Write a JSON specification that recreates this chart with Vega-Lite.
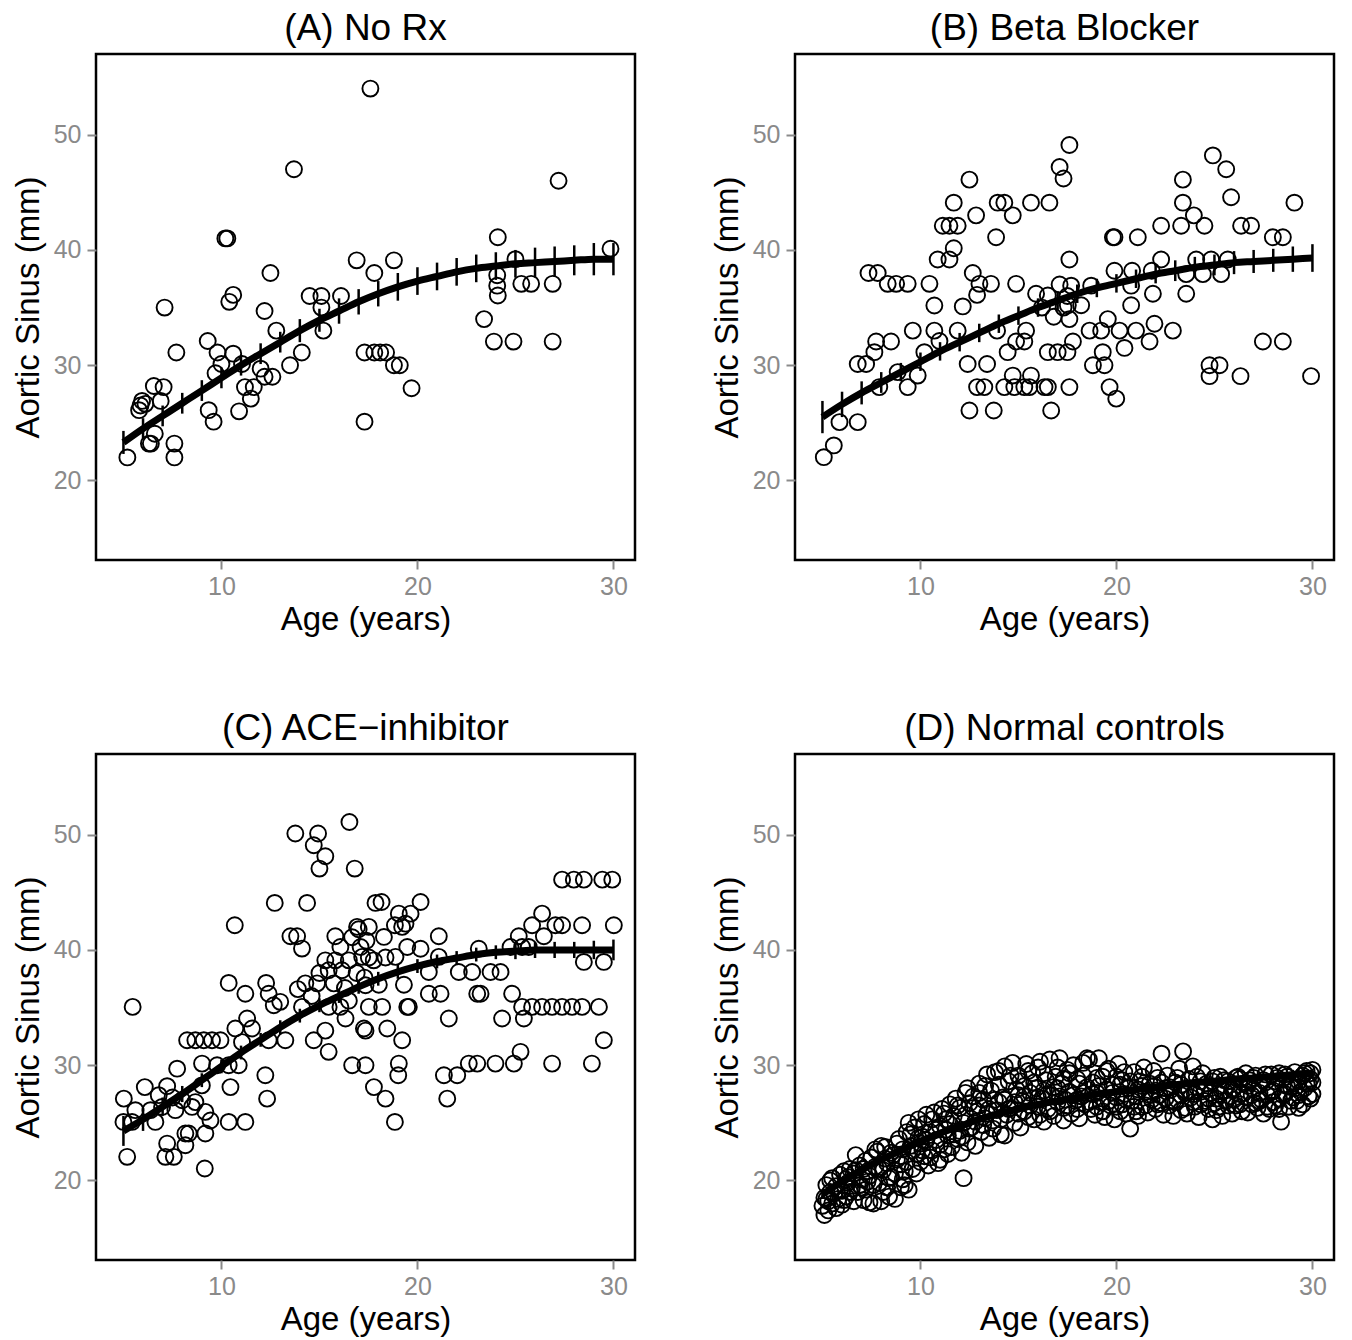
{
  "$schema": "https://vega.github.io/schema/vega-lite/v6.json",
  "padding": {"left": 10, "top": 8, "right": 5, "bottom": 5},
  "datasets": {
    "pts": [
      {"g":"A","a":17.6,"s":54},{"g":"A","a":13.7,"s":47},{"g":"A","a":10.2,"s":41},{"g":"A","a":10.3,"s":41},{"g":"A","a":12.5,"s":38},{"g":"A","a":16.9,"s":39.1},{"g":"A","a":17.8,"s":38},{"g":"A","a":7.1,"s":35},{"g":"A","a":10.6,"s":36.1},{"g":"A","a":10.4,"s":35.5},{"g":"A","a":12.2,"s":34.7},{"g":"A","a":14.5,"s":36},{"g":"A","a":15.1,"s":36},{"g":"A","a":16.1,"s":36},{"g":"A","a":15.1,"s":35},{"g":"A","a":15.2,"s":33},{"g":"A","a":12.8,"s":33},{"g":"A","a":7.7,"s":31.1},{"g":"A","a":9.3,"s":32.1},{"g":"A","a":9.8,"s":31.1},{"g":"A","a":10.6,"s":31},{"g":"A","a":10.0,"s":30.1},{"g":"A","a":11.05,"s":30.1},{"g":"A","a":13.5,"s":30},{"g":"A","a":14.1,"s":31.1},{"g":"A","a":12.0,"s":29.7},{"g":"A","a":12.6,"s":29.0},{"g":"A","a":12.2,"s":29.0},{"g":"A","a":9.7,"s":29.3},{"g":"A","a":11.2,"s":28.1},{"g":"A","a":11.65,"s":28.1},{"g":"A","a":11.5,"s":27.1},{"g":"A","a":9.35,"s":26.1},{"g":"A","a":9.6,"s":25.1},{"g":"A","a":10.9,"s":26},{"g":"A","a":6.55,"s":28.2},{"g":"A","a":7.05,"s":28.1},{"g":"A","a":5.95,"s":26.9},{"g":"A","a":5.87,"s":26.5},{"g":"A","a":6.12,"s":26.65},{"g":"A","a":5.8,"s":26.1},{"g":"A","a":6.9,"s":26.9},{"g":"A","a":6.6,"s":24.05},{"g":"A","a":6.4,"s":23.2},{"g":"A","a":6.3,"s":23.2},{"g":"A","a":7.6,"s":23.2},{"g":"A","a":7.6,"s":22.0},{"g":"A","a":5.2,"s":22.0},{"g":"A","a":17.3,"s":25.1},{"g":"A","a":17.3,"s":31.1},{"g":"A","a":17.8,"s":31.1},{"g":"A","a":18.1,"s":31.1},{"g":"A","a":18.4,"s":31.1},{"g":"A","a":27.2,"s":46},{"g":"A","a":24.1,"s":41.1},{"g":"A","a":25.0,"s":39.2},{"g":"A","a":29.85,"s":40.1},{"g":"A","a":24.07,"s":37.8},{"g":"A","a":24.07,"s":36.9},{"g":"A","a":24.1,"s":36.05},{"g":"A","a":25.3,"s":37.06},{"g":"A","a":25.8,"s":37.06},{"g":"A","a":26.9,"s":37.06},{"g":"A","a":18.8,"s":39.1},{"g":"A","a":23.4,"s":34},{"g":"A","a":23.9,"s":32.05},{"g":"A","a":24.9,"s":32.05},{"g":"A","a":26.9,"s":32.05},{"g":"A","a":18.8,"s":30},{"g":"A","a":19.1,"s":30},{"g":"A","a":19.7,"s":28},
      {"g":"B","a":17.6,"s":49.1},{"g":"B","a":17.1,"s":47.2},{"g":"B","a":17.3,"s":46.2},{"g":"B","a":12.5,"s":46.1},{"g":"B","a":11.7,"s":44.1},{"g":"B","a":12.84,"s":43.0},{"g":"B","a":13.94,"s":44.1},{"g":"B","a":14.28,"s":44.1},{"g":"B","a":14.71,"s":43.0},{"g":"B","a":15.64,"s":44.1},{"g":"B","a":16.58,"s":44.1},{"g":"B","a":11.14,"s":42.1},{"g":"B","a":11.48,"s":42.1},{"g":"B","a":11.9,"s":42.1},{"g":"B","a":11.7,"s":40.15},{"g":"B","a":10.88,"s":39.17},{"g":"B","a":11.48,"s":39.17},{"g":"B","a":13.86,"s":41.1},{"g":"B","a":17.6,"s":39.17},{"g":"B","a":7.35,"s":38.0},{"g":"B","a":7.82,"s":38.0},{"g":"B","a":8.33,"s":37.06},{"g":"B","a":8.76,"s":37.06},{"g":"B","a":9.35,"s":37.06},{"g":"B","a":10.46,"s":37.06},{"g":"B","a":12.67,"s":38.0},{"g":"B","a":13.01,"s":37.06},{"g":"B","a":13.6,"s":37.06},{"g":"B","a":14.88,"s":37.06},{"g":"B","a":10.71,"s":35.18},{"g":"B","a":12.16,"s":35.1},{"g":"B","a":12.89,"s":36.1},{"g":"B","a":15.9,"s":36.2},{"g":"B","a":16.5,"s":36.05},{"g":"B","a":9.61,"s":33},{"g":"B","a":10.71,"s":33},{"g":"B","a":11.9,"s":33},{"g":"B","a":13.91,"s":33},{"g":"B","a":15.39,"s":33},{"g":"B","a":7.74,"s":32.06},{"g":"B","a":8.5,"s":32.06},{"g":"B","a":14.88,"s":32.06},{"g":"B","a":15.3,"s":32.06},{"g":"B","a":10.97,"s":32.1},{"g":"B","a":7.65,"s":31.13},{"g":"B","a":6.8,"s":30.1},{"g":"B","a":7.23,"s":30.1},{"g":"B","a":10.2,"s":31.13},{"g":"B","a":12.41,"s":30.1},{"g":"B","a":13.4,"s":30.1},{"g":"B","a":14.45,"s":31.13},{"g":"B","a":16.5,"s":31.13},{"g":"B","a":17.0,"s":31.13},{"g":"B","a":17.5,"s":31.13},{"g":"B","a":8.84,"s":29.4},{"g":"B","a":9.35,"s":28.1},{"g":"B","a":9.86,"s":29.1},{"g":"B","a":7.9,"s":28.1},{"g":"B","a":12.89,"s":28.1},{"g":"B","a":13.26,"s":28.1},{"g":"B","a":14.28,"s":28.1},{"g":"B","a":14.79,"s":28.1},{"g":"B","a":15.3,"s":28.1},{"g":"B","a":15.56,"s":28.1},{"g":"B","a":16.33,"s":28.1},{"g":"B","a":16.5,"s":28.1},{"g":"B","a":17.6,"s":28.1},{"g":"B","a":14.71,"s":29.1},{"g":"B","a":15.64,"s":29.1},{"g":"B","a":12.5,"s":26.07},{"g":"B","a":13.74,"s":26.07},{"g":"B","a":16.67,"s":26.07},{"g":"B","a":5.87,"s":25.06},{"g":"B","a":6.8,"s":25.06},{"g":"B","a":5.58,"s":23.04},{"g":"B","a":5.07,"s":22.02},{"g":"B","a":16.2,"s":35},{"g":"B","a":16.8,"s":34.2},{"g":"B","a":17.3,"s":35},{"g":"B","a":17.5,"s":36},{"g":"B","a":17.1,"s":37},
      {"g":"B","a":24.92,"s":48.2},{"g":"B","a":25.6,"s":47.0},{"g":"B","a":23.39,"s":46.1},{"g":"B","a":23.39,"s":44.1},{"g":"B","a":23.95,"s":43.0},{"g":"B","a":25.85,"s":44.57},{"g":"B","a":29.08,"s":44.1},{"g":"B","a":22.28,"s":42.1},{"g":"B","a":23.3,"s":42.1},{"g":"B","a":24.49,"s":42.1},{"g":"B","a":26.36,"s":42.1},{"g":"B","a":26.87,"s":42.1},{"g":"B","a":27.98,"s":41.1},{"g":"B","a":28.49,"s":41.1},{"g":"B","a":19.82,"s":41.1},{"g":"B","a":19.9,"s":41.1},{"g":"B","a":21.09,"s":41.1},{"g":"B","a":22.28,"s":39.17},{"g":"B","a":24.07,"s":39.17},{"g":"B","a":24.83,"s":39.17},{"g":"B","a":25.68,"s":39.17},{"g":"B","a":19.9,"s":38.2},{"g":"B","a":20.8,"s":38.2},{"g":"B","a":21.8,"s":38.2},{"g":"B","a":23.56,"s":37.9},{"g":"B","a":24.41,"s":37.9},{"g":"B","a":25.34,"s":37.9},{"g":"B","a":17.69,"s":36.9},{"g":"B","a":18.71,"s":36.9},{"g":"B","a":20.75,"s":36.9},{"g":"B","a":21.86,"s":36.2},{"g":"B","a":23.56,"s":36.2},{"g":"B","a":17.52,"s":35.2},{"g":"B","a":18.2,"s":35.2},{"g":"B","a":20.75,"s":35.2},{"g":"B","a":17.6,"s":34.0},{"g":"B","a":19.56,"s":34.0},{"g":"B","a":18.63,"s":33},{"g":"B","a":19.22,"s":33},{"g":"B","a":20.16,"s":33},{"g":"B","a":21.0,"s":33},{"g":"B","a":21.94,"s":33.6},{"g":"B","a":22.88,"s":33},{"g":"B","a":21.69,"s":32.06},{"g":"B","a":17.78,"s":32.06},{"g":"B","a":19.3,"s":31.13},{"g":"B","a":20.41,"s":31.5},{"g":"B","a":18.8,"s":30},{"g":"B","a":19.39,"s":30},{"g":"B","a":27.47,"s":32.06},{"g":"B","a":28.49,"s":32.06},{"g":"B","a":24.75,"s":30},{"g":"B","a":25.26,"s":30},{"g":"B","a":24.75,"s":29.05},{"g":"B","a":26.33,"s":29.05},{"g":"B","a":29.93,"s":29.05},{"g":"B","a":19.65,"s":28.1},{"g":"B","a":19.99,"s":27.1},
      {"g":"C","a":16.53,"s":51.1},{"g":"C","a":13.77,"s":50.1},{"g":"C","a":14.93,"s":50.1},{"g":"C","a":14.71,"s":49.08},{"g":"C","a":15.3,"s":48.13},{"g":"C","a":15.0,"s":47.06},{"g":"C","a":16.8,"s":47.06},{"g":"C","a":12.72,"s":44.08},{"g":"C","a":14.37,"s":44.08},{"g":"C","a":10.68,"s":42.14},{"g":"C","a":13.52,"s":41.19},{"g":"C","a":13.86,"s":41.19},{"g":"C","a":14.11,"s":40.12},{"g":"C","a":17.86,"s":44.08},{"g":"C","a":15.81,"s":41.19},{"g":"C","a":16.67,"s":41.1},{"g":"C","a":16.07,"s":40.26},{"g":"C","a":16.92,"s":42.0},{"g":"C","a":17.52,"s":42.0},{"g":"C","a":10.37,"s":37.14},{"g":"C","a":11.22,"s":36.2},{"g":"C","a":12.28,"s":37.14},{"g":"C","a":12.41,"s":36.2},{"g":"C","a":12.67,"s":35.2},{"g":"C","a":14.28,"s":37.1},{"g":"C","a":14.88,"s":37.1},{"g":"C","a":15.47,"s":38.24},{"g":"C","a":16.15,"s":38.24},{"g":"C","a":15.73,"s":37.1},{"g":"C","a":15.3,"s":39.1},{"g":"C","a":15.81,"s":39.1},{"g":"C","a":16.5,"s":39.1},{"g":"C","a":17.18,"s":39.4},{"g":"C","a":17.77,"s":39.1},{"g":"C","a":5.47,"s":35.06},{"g":"C","a":11.31,"s":34.05},{"g":"C","a":10.71,"s":33.18},{"g":"C","a":11.56,"s":33.18},{"g":"C","a":12.41,"s":32.17},{"g":"C","a":8.25,"s":32.17},{"g":"C","a":8.67,"s":32.17},{"g":"C","a":9.1,"s":32.17},{"g":"C","a":9.52,"s":32.17},{"g":"C","a":9.95,"s":32.17},{"g":"C","a":13.26,"s":32.17},{"g":"C","a":11.05,"s":32.0},{"g":"C","a":15.3,"s":33.0},{"g":"C","a":16.33,"s":34.05},{"g":"C","a":17.35,"s":33.0},{"g":"C","a":14.71,"s":32.17},{"g":"C","a":15.47,"s":31.16},{"g":"C","a":14.11,"s":35.06},{"g":"C","a":15.47,"s":35.06},{"g":"C","a":16.07,"s":35.06},{"g":"C","a":16.5,"s":35.6},{"g":"C","a":16.67,"s":30.0},{"g":"C","a":7.74,"s":29.7},{"g":"C","a":9.01,"s":30.14},{"g":"C","a":9.78,"s":30.0},{"g":"C","a":10.37,"s":30.0},{"g":"C","a":10.88,"s":30.0},{"g":"C","a":12.24,"s":29.13},{"g":"C","a":6.09,"s":28.1},{"g":"C","a":7.23,"s":28.18},{"g":"C","a":9.0,"s":28.25},{"g":"C","a":10.46,"s":28.1},{"g":"C","a":12.33,"s":27.1},{"g":"C","a":5.02,"s":27.1},{"g":"C","a":5.61,"s":26.1},{"g":"C","a":6.38,"s":26.1},{"g":"C","a":6.97,"s":26.38},{"g":"C","a":7.65,"s":26.1},{"g":"C","a":8.5,"s":26.38},{"g":"C","a":9.18,"s":25.95},{"g":"C","a":5.0,"s":25.08},{"g":"C","a":5.44,"s":25.08},{"g":"C","a":6.63,"s":25.08},{"g":"C","a":9.44,"s":25.2},{"g":"C","a":10.37,"s":25.08},{"g":"C","a":11.22,"s":25.08},{"g":"C","a":8.16,"s":24.07},{"g":"C","a":8.33,"s":24.07},{"g":"C","a":9.18,"s":24.07},{"g":"C","a":7.23,"s":23.2},{"g":"C","a":8.16,"s":23.06},{"g":"C","a":5.19,"s":22.05},{"g":"C","a":7.14,"s":22.05},{"g":"C","a":7.57,"s":22.05},{"g":"C","a":9.15,"s":21.04},{"g":"C","a":6.8,"s":27.4},{"g":"C","a":7.5,"s":27.2},{"g":"C","a":8.0,"s":26.96},{"g":"C","a":8.67,"s":26.8},{"g":"C","a":13.0,"s":35.5},{"g":"C","a":13.9,"s":36.6},{"g":"C","a":14.6,"s":36.0},{"g":"C","a":15.0,"s":38.0},{"g":"C","a":16.9,"s":38.0},{"g":"C","a":17.3,"s":37.6},{"g":"C","a":16.3,"s":36.7},{"g":"C","a":17.0,"s":41.8},{"g":"C","a":17.4,"s":40.8},
      {"g":"C","a":27.38,"s":46.1},{"g":"C","a":27.98,"s":46.1},{"g":"C","a":28.49,"s":46.1},{"g":"C","a":29.43,"s":46.1},{"g":"C","a":29.94,"s":46.1},{"g":"C","a":18.17,"s":44.16},{"g":"C","a":20.16,"s":44.16},{"g":"C","a":19.05,"s":43.15},{"g":"C","a":19.65,"s":43.15},{"g":"C","a":19.39,"s":42.28},{"g":"C","a":18.85,"s":42.14},{"g":"C","a":19.22,"s":42.0},{"g":"C","a":26.36,"s":43.15},{"g":"C","a":25.85,"s":42.14},{"g":"C","a":27.04,"s":42.14},{"g":"C","a":27.38,"s":42.14},{"g":"C","a":28.4,"s":42.14},{"g":"C","a":30.02,"s":42.14},{"g":"C","a":18.29,"s":41.13},{"g":"C","a":21.09,"s":41.19},{"g":"C","a":19.48,"s":40.26},{"g":"C","a":20.16,"s":40.1},{"g":"C","a":25.17,"s":41.19},{"g":"C","a":26.45,"s":41.19},{"g":"C","a":17.1,"s":40.26},{"g":"C","a":17.52,"s":39.34},{"g":"C","a":18.37,"s":39.34},{"g":"C","a":18.88,"s":39.4},{"g":"C","a":23.13,"s":40.1},{"g":"C","a":24.75,"s":40.26},{"g":"C","a":25.34,"s":40.26},{"g":"C","a":25.68,"s":40.26},{"g":"C","a":21.09,"s":39.4},{"g":"C","a":28.49,"s":38.96},{"g":"C","a":29.51,"s":38.96},{"g":"C","a":20.58,"s":38.09},{"g":"C","a":22.11,"s":38.09},{"g":"C","a":22.79,"s":38.09},{"g":"C","a":23.73,"s":38.09},{"g":"C","a":24.24,"s":38.09},{"g":"C","a":19.31,"s":36.98},{"g":"C","a":17.35,"s":36.94},{"g":"C","a":18.03,"s":36.98},{"g":"C","a":20.58,"s":36.2},{"g":"C","a":21.18,"s":36.2},{"g":"C","a":23.05,"s":36.2},{"g":"C","a":23.22,"s":36.2},{"g":"C","a":24.83,"s":36.2},{"g":"C","a":17.52,"s":35.06},{"g":"C","a":18.2,"s":35.06},{"g":"C","a":19.48,"s":35.06},{"g":"C","a":19.56,"s":35.06},{"g":"C","a":25.34,"s":35.06},{"g":"C","a":25.85,"s":35.06},{"g":"C","a":26.36,"s":35.06},{"g":"C","a":26.87,"s":35.06},{"g":"C","a":27.38,"s":35.06},{"g":"C","a":27.89,"s":35.06},{"g":"C","a":28.4,"s":35.06},{"g":"C","a":29.26,"s":35.06},{"g":"C","a":21.6,"s":34.05},{"g":"C","a":24.32,"s":34.05},{"g":"C","a":25.43,"s":34.05},{"g":"C","a":17.27,"s":33.18},{"g":"C","a":18.46,"s":33.18},{"g":"C","a":19.22,"s":32.17},{"g":"C","a":29.51,"s":32.17},{"g":"C","a":17.35,"s":30.0},{"g":"C","a":19.05,"s":30.14},{"g":"C","a":19.02,"s":29.13},{"g":"C","a":21.35,"s":29.13},{"g":"C","a":22.03,"s":29.13},{"g":"C","a":22.62,"s":30.14},{"g":"C","a":23.05,"s":30.14},{"g":"C","a":23.98,"s":30.14},{"g":"C","a":24.92,"s":30.14},{"g":"C","a":25.26,"s":31.16},{"g":"C","a":26.87,"s":30.14},{"g":"C","a":28.9,"s":30.14},{"g":"C","a":17.78,"s":28.1},{"g":"C","a":18.37,"s":27.1},{"g":"C","a":21.52,"s":27.1},{"g":"C","a":18.85,"s":25.08},
      {"g":"D","a":5.0,"s":17.8},{"g":"D","a":5.1,"s":17.0},{"g":"D","a":5.1,"s":18.5},{"g":"D","a":5.2,"s":19.6},{"g":"D","a":5.3,"s":18.2},{"g":"D","a":5.4,"s":19.0},{"g":"D","a":5.5,"s":20.2},{"g":"D","a":5.5,"s":18.0},{"g":"D","a":5.7,"s":19.5},{"g":"D","a":5.8,"s":18.4},{"g":"D","a":5.9,"s":20.5},{"g":"D","a":6.0,"s":19.1},{"g":"D","a":6.1,"s":20.8},{"g":"D","a":6.2,"s":18.6},{"g":"D","a":6.3,"s":19.8},{"g":"D","a":6.4,"s":21.0},{"g":"D","a":6.5,"s":19.3},{"g":"D","a":6.0,"s":17.9},{"g":"D","a":6.3,"s":20.3},{"g":"D","a":6.6,"s":20.6},{"g":"D","a":6.7,"s":22.2},{"g":"D","a":6.8,"s":19.0},{"g":"D","a":6.9,"s":21.3},{"g":"D","a":7.0,"s":20.1},{"g":"D","a":7.1,"s":18.3},{"g":"D","a":7.2,"s":21.7},{"g":"D","a":7.3,"s":20.8},{"g":"D","a":7.4,"s":18.1},{"g":"D","a":7.5,"s":22.0},{"g":"D","a":7.0,"s":19.4},{"g":"D","a":7.3,"s":19.9},{"g":"D","a":7.6,"s":18.0},{"g":"D","a":7.7,"s":21.2},{"g":"D","a":7.8,"s":22.5},{"g":"D","a":7.9,"s":19.8},{"g":"D","a":8.0,"s":18.2},{"g":"D","a":8.1,"s":20.9},{"g":"D","a":8.2,"s":22.9},{"g":"D","a":8.3,"s":21.5},{"g":"D","a":8.4,"s":18.6},{"g":"D","a":8.5,"s":20.3},{"g":"D","a":8.0,"s":23.0},{"g":"D","a":8.3,"s":19.4},{"g":"D","a":8.6,"s":22.2},{"g":"D","a":8.7,"s":18.4},{"g":"D","a":8.8,"s":21.8},{"g":"D","a":8.9,"s":23.6},{"g":"D","a":9.0,"s":19.4},{"g":"D","a":9.1,"s":22.7},{"g":"D","a":9.2,"s":20.8},{"g":"D","a":9.3,"s":24.2},{"g":"D","a":9.4,"s":19.2},{"g":"D","a":9.5,"s":23.0},{"g":"D","a":9.0,"s":21.4},{"g":"D","a":9.4,"s":25.0},{"g":"D","a":9.2,"s":19.6},{"g":"D","a":9.6,"s":21.0},{"g":"D","a":9.7,"s":24.6},{"g":"D","a":9.8,"s":22.3},{"g":"D","a":9.9,"s":25.3},{"g":"D","a":10.0,"s":21.6},{"g":"D","a":10.1,"s":23.8},{"g":"D","a":10.2,"s":22.1},{"g":"D","a":10.3,"s":25.7},{"g":"D","a":10.4,"s":21.3},{"g":"D","a":10.5,"s":24.2},{"g":"D","a":10.0,"s":23.2},{"g":"D","a":10.2,"s":24.9},{"g":"D","a":10.6,"s":22.6},{"g":"D","a":10.7,"s":25.9},{"g":"D","a":10.8,"s":23.5},{"g":"D","a":10.9,"s":21.5},{"g":"D","a":11.0,"s":24.7},{"g":"D","a":11.1,"s":26.2},{"g":"D","a":11.2,"s":22.7},{"g":"D","a":11.3,"s":25.3},{"g":"D","a":11.4,"s":23.9},{"g":"D","a":11.5,"s":26.6},{"g":"D","a":11.0,"s":21.8},{"g":"D","a":11.3,"s":24.4},{"g":"D","a":11.6,"s":22.9},{"g":"D","a":11.7,"s":25.6},{"g":"D","a":11.8,"s":27.1},{"g":"D","a":11.9,"s":23.6},{"g":"D","a":12.0,"s":26.3},{"g":"D","a":12.1,"s":22.4},{"g":"D","a":12.2,"s":20.2},{"g":"D","a":12.2,"s":25.0},{"g":"D","a":12.3,"s":27.6},{"g":"D","a":12.4,"s":23.3},{"g":"D","a":12.5,"s":26.7},{"g":"D","a":12.0,"s":24.3},{"g":"D","a":12.4,"s":28.0},{"g":"D","a":12.6,"s":24.6},{"g":"D","a":12.7,"s":27.3},{"g":"D","a":12.8,"s":23.0},{"g":"D","a":12.9,"s":26.0},{"g":"D","a":13.0,"s":28.4},{"g":"D","a":13.1,"s":24.2},{"g":"D","a":13.2,"s":27.0},{"g":"D","a":13.3,"s":25.4},{"g":"D","a":13.4,"s":29.2},{"g":"D","a":13.5,"s":23.7},{"g":"D","a":13.0,"s":26.5},{"g":"D","a":13.4,"s":25.8},{"g":"D","a":13.6,"s":27.8},{"g":"D","a":13.7,"s":24.5},{"g":"D","a":13.8,"s":29.4},{"g":"D","a":13.9,"s":26.1},{"g":"D","a":14.0,"s":28.3},{"g":"D","a":14.1,"s":24.0},{"g":"D","a":14.2,"s":27.2},{"g":"D","a":14.3,"s":29.9},{"g":"D","a":14.4,"s":25.7},{"g":"D","a":14.5,"s":28.6},{"g":"D","a":14.0,"s":26.8},{"g":"D","a":14.3,"s":23.9},{"g":"D","a":14.6,"s":26.3},{"g":"D","a":14.7,"s":30.2},{"g":"D","a":14.8,"s":25.0},{"g":"D","a":14.9,"s":27.9},{"g":"D","a":15.0,"s":29.1},{"g":"D","a":15.1,"s":24.6},{"g":"D","a":15.2,"s":26.9},{"g":"D","a":15.3,"s":28.2},{"g":"D","a":15.4,"s":30.1},{"g":"D","a":15.5,"s":25.5},{"g":"D","a":15.0,"s":27.4},{"g":"D","a":15.3,"s":26.0},{"g":"D","a":15.6,"s":27.6},{"g":"D","a":15.7,"s":29.3},{"g":"D","a":15.8,"s":25.3},{"g":"D","a":15.9,"s":28.0},{"g":"D","a":16.0,"s":26.4},{"g":"D","a":16.1,"s":30.3},{"g":"D","a":16.2,"s":27.1},{"g":"D","a":16.3,"s":25.1},{"g":"D","a":16.4,"s":28.7},{"g":"D","a":16.5,"s":26.2},{"g":"D","a":16.0,"s":29.8},{"g":"D","a":16.3,"s":27.8},{"g":"D","a":16.6,"s":30.5},{"g":"D","a":16.7,"s":27.4},{"g":"D","a":16.8,"s":25.6},{"g":"D","a":16.9,"s":29.0},{"g":"D","a":17.0,"s":26.8},{"g":"D","a":17.1,"s":30.6},{"g":"D","a":17.2,"s":28.4},{"g":"D","a":17.3,"s":25.2},{"g":"D","a":17.4,"s":27.0},{"g":"D","a":17.5,"s":29.6},{"g":"D","a":17.0,"s":28.0},{"g":"D","a":17.3,"s":26.3},{"g":"D","a":17.6,"s":27.7},{"g":"D","a":17.7,"s":25.8},{"g":"D","a":17.8,"s":30.0},{"g":"D","a":17.9,"s":26.9},{"g":"D","a":18.0,"s":28.8},{"g":"D","a":18.1,"s":25.4},{"g":"D","a":18.2,"s":27.3},{"g":"D","a":18.3,"s":30.2},{"g":"D","a":18.4,"s":26.6},{"g":"D","a":18.5,"s":28.1},{"g":"D","a":18.0,"s":27.0},{"g":"D","a":18.3,"s":29.1},{"g":"D","a":18.6,"s":30.5},{"g":"D","a":18.7,"s":26.2},{"g":"D","a":18.8,"s":28.5},{"g":"D","a":18.9,"s":25.7},{"g":"D","a":19.0,"s":27.6},{"g":"D","a":19.1,"s":30.6},{"g":"D","a":19.2,"s":26.8},{"g":"D","a":19.3,"s":29.0},{"g":"D","a":19.4,"s":25.5},{"g":"D","a":19.5,"s":27.9},{"g":"D","a":19.0,"s":28.9},{"g":"D","a":19.3,"s":26.0},{"g":"D","a":19.6,"s":29.7},{"g":"D","a":19.7,"s":26.5},{"g":"D","a":19.8,"s":28.3},{"g":"D","a":19.9,"s":25.3},{"g":"D","a":20.0,"s":27.2},{"g":"D","a":20.1,"s":30.1},{"g":"D","a":20.2,"s":26.0},{"g":"D","a":20.3,"s":28.7},{"g":"D","a":20.4,"s":27.5},{"g":"D","a":20.5,"s":25.8},{"g":"D","a":20.0,"s":29.0},{"g":"D","a":20.3,"s":26.6},{"g":"D","a":20.6,"s":28.0},{"g":"D","a":20.7,"s":24.5},{"g":"D","a":20.8,"s":26.9},{"g":"D","a":20.9,"s":29.4},{"g":"D","a":21.0,"s":27.3},{"g":"D","a":21.1,"s":25.6},{"g":"D","a":21.2,"s":28.6},{"g":"D","a":21.3,"s":26.4},{"g":"D","a":21.4,"s":29.8},{"g":"D","a":21.5,"s":27.7},{"g":"D","a":21.0,"s":26.0},{"g":"D","a":21.3,"s":28.2},{"g":"D","a":21.6,"s":25.9},{"g":"D","a":21.7,"s":28.4},{"g":"D","a":21.8,"s":27.0},{"g":"D","a":21.9,"s":29.5},{"g":"D","a":22.0,"s":26.2},{"g":"D","a":22.1,"s":28.9},{"g":"D","a":22.2,"s":27.4},{"g":"D","a":22.3,"s":31.0},{"g":"D","a":22.4,"s":25.7},{"g":"D","a":22.5,"s":28.0},{"g":"D","a":22.0,"s":27.8},{"g":"D","a":22.3,"s":26.7},{"g":"D","a":22.6,"s":29.1},{"g":"D","a":22.7,"s":26.5},{"g":"D","a":22.8,"s":27.9},{"g":"D","a":22.9,"s":25.6},{"g":"D","a":23.0,"s":28.5},{"g":"D","a":23.1,"s":27.0},{"g":"D","a":23.2,"s":29.7},{"g":"D","a":23.3,"s":26.1},{"g":"D","a":23.4,"s":31.2},{"g":"D","a":23.5,"s":27.6},{"g":"D","a":23.0,"s":26.8},{"g":"D","a":23.3,"s":28.3},{"g":"D","a":23.6,"s":25.8},{"g":"D","a":23.7,"s":28.8},{"g":"D","a":23.8,"s":27.2},{"g":"D","a":23.9,"s":29.9},{"g":"D","a":24.0,"s":26.4},{"g":"D","a":24.1,"s":28.1},{"g":"D","a":24.2,"s":25.5},{"g":"D","a":24.3,"s":27.7},{"g":"D","a":24.4,"s":29.3},{"g":"D","a":24.5,"s":26.9},{"g":"D","a":24.0,"s":27.5},{"g":"D","a":24.3,"s":28.6},{"g":"D","a":24.6,"s":28.4},{"g":"D","a":24.7,"s":26.2},{"g":"D","a":24.8,"s":27.6},{"g":"D","a":24.9,"s":25.3},{"g":"D","a":25.0,"s":28.9},{"g":"D","a":25.1,"s":27.1},{"g":"D","a":25.2,"s":26.4},{"g":"D","a":25.3,"s":28.2},{"g":"D","a":25.4,"s":25.6},{"g":"D","a":25.5,"s":27.8},{"g":"D","a":25.0,"s":26.7},{"g":"D","a":25.3,"s":29.0},{"g":"D","a":25.6,"s":26.9},{"g":"D","a":25.7,"s":28.6},{"g":"D","a":25.8,"s":27.3},{"g":"D","a":25.9,"s":25.8},{"g":"D","a":26.0,"s":28.0},{"g":"D","a":26.1,"s":26.5},{"g":"D","a":26.2,"s":29.0},{"g":"D","a":26.3,"s":27.5},{"g":"D","a":26.4,"s":26.0},{"g":"D","a":26.5,"s":28.4},{"g":"D","a":26.0,"s":27.0},{"g":"D","a":26.3,"s":28.8},{"g":"D","a":26.6,"s":27.2},{"g":"D","a":26.7,"s":25.9},{"g":"D","a":26.8,"s":28.7},{"g":"D","a":26.9,"s":26.6},{"g":"D","a":27.0,"s":27.9},{"g":"D","a":27.1,"s":29.1},{"g":"D","a":27.2,"s":26.3},{"g":"D","a":27.3,"s":28.3},{"g":"D","a":27.4,"s":27.0},{"g":"D","a":27.5,"s":25.8},{"g":"D","a":27.0,"s":28.9},{"g":"D","a":27.3,"s":26.9},{"g":"D","a":27.6,"s":28.5},{"g":"D","a":27.7,"s":27.4},{"g":"D","a":27.8,"s":26.2},{"g":"D","a":27.9,"s":29.2},{"g":"D","a":28.0,"s":27.8},{"g":"D","a":28.1,"s":26.5},{"g":"D","a":28.2,"s":28.9},{"g":"D","a":28.3,"s":27.1},{"g":"D","a":28.4,"s":25.1},{"g":"D","a":28.5,"s":28.3},{"g":"D","a":28.0,"s":26.8},{"g":"D","a":28.3,"s":29.3},{"g":"D","a":28.6,"s":27.5},{"g":"D","a":28.7,"s":29.0},{"g":"D","a":28.8,"s":26.4},{"g":"D","a":28.9,"s":28.1},{"g":"D","a":29.0,"s":27.2},{"g":"D","a":29.1,"s":29.4},{"g":"D","a":29.2,"s":26.9},{"g":"D","a":29.3,"s":28.6},{"g":"D","a":29.4,"s":27.7},{"g":"D","a":29.5,"s":29.1},{"g":"D","a":29.0,"s":28.4},{"g":"D","a":29.3,"s":26.3},{"g":"D","a":29.6,"s":28.0},{"g":"D","a":29.7,"s":29.5},{"g":"D","a":29.8,"s":27.3},{"g":"D","a":29.9,"s":28.8},{"g":"D","a":30.0,"s":29.6},{"g":"D","a":30.0,"s":27.5},{"g":"D","a":29.9,"s":29.3},{"g":"D","a":29.8,"s":28.4},
      {"g":"D","a":5.2,"s":18.4},{"g":"D","a":5.3,"s":17.4},{"g":"D","a":5.4,"s":20.0},{"g":"D","a":5.6,"s":18.9},{"g":"D","a":5.7,"s":17.6},{"g":"D","a":5.9,"s":19.2},{"g":"D","a":6.1,"s":18.3},{"g":"D","a":6.2,"s":20.1},{"g":"D","a":6.4,"s":19.0},{"g":"D","a":6.6,"s":18.2},{"g":"D","a":6.7,"s":20.9},{"g":"D","a":6.9,"s":19.6},{"g":"D","a":7.1,"s":21.0},{"g":"D","a":7.2,"s":19.2},{"g":"D","a":7.4,"s":20.4},{"g":"D","a":7.6,"s":19.6},{"g":"D","a":7.7,"s":22.7},{"g":"D","a":7.9,"s":21.0},{"g":"D","a":8.1,"s":19.0},{"g":"D","a":8.2,"s":21.9},{"g":"D","a":8.4,"s":20.2},{"g":"D","a":8.5,"s":22.4},{"g":"D","a":8.7,"s":20.6},{"g":"D","a":8.8,"s":23.2},{"g":"D","a":9.0,"s":22.1},{"g":"D","a":9.1,"s":20.1},{"g":"D","a":9.3,"s":21.6},{"g":"D","a":9.5,"s":24.0},{"g":"D","a":9.6,"s":22.6},{"g":"D","a":9.8,"s":20.6},{"g":"D","a":9.9,"s":23.7},{"g":"D","a":10.1,"s":22.6},{"g":"D","a":10.3,"s":23.5},{"g":"D","a":10.5,"s":22.0},{"g":"D","a":10.6,"s":25.3},{"g":"D","a":10.8,"s":24.4},{"g":"D","a":11.0,"s":23.1},{"g":"D","a":11.2,"s":25.8},{"g":"D","a":11.4,"s":22.3},{"g":"D","a":11.5,"s":24.9},{"g":"D","a":11.7,"s":24.0},{"g":"D","a":11.9,"s":26.5},{"g":"D","a":12.1,"s":23.8},{"g":"D","a":12.3,"s":25.7},{"g":"D","a":12.5,"s":24.5},{"g":"D","a":12.7,"s":26.3},{"g":"D","a":12.8,"s":25.1},{"g":"D","a":13.0,"s":27.6},{"g":"D","a":13.2,"s":24.8},{"g":"D","a":13.3,"s":28.2},{"g":"D","a":13.5,"s":26.2},{"g":"D","a":13.7,"s":25.2},{"g":"D","a":13.8,"s":27.0},{"g":"D","a":14.0,"s":29.5},{"g":"D","a":14.1,"s":25.3},{"g":"D","a":14.3,"s":27.0},{"g":"D","a":14.5,"s":26.2},{"g":"D","a":14.6,"s":29.1},{"g":"D","a":14.8,"s":26.8},{"g":"D","a":15.0,"s":25.8},{"g":"D","a":15.1,"s":28.6},{"g":"D","a":15.3,"s":27.3},{"g":"D","a":15.5,"s":29.5},{"g":"D","a":15.6,"s":26.5},{"g":"D","a":15.8,"s":28.5},{"g":"D","a":16.0,"s":27.2},{"g":"D","a":16.1,"s":25.7},{"g":"D","a":16.3,"s":29.3},{"g":"D","a":16.5,"s":27.5},{"g":"D","a":16.6,"s":26.0},{"g":"D","a":16.8,"s":28.1},{"g":"D","a":17.0,"s":29.8},{"g":"D","a":17.1,"s":27.3},{"g":"D","a":17.3,"s":28.8},{"g":"D","a":17.5,"s":26.5},{"g":"D","a":17.6,"s":29.3},{"g":"D","a":17.8,"s":27.4},{"g":"D","a":18.0,"s":26.2},{"g":"D","a":18.1,"s":28.4},{"g":"D","a":18.3,"s":27.6},{"g":"D","a":18.5,"s":30.6},{"g":"D","a":18.6,"s":26.8},{"g":"D","a":18.8,"s":27.5},{"g":"D","a":19.0,"s":26.4},{"g":"D","a":19.1,"s":28.2},{"g":"D","a":19.3,"s":27.1},{"g":"D","a":19.5,"s":29.5},{"g":"D","a":19.6,"s":26.9},{"g":"D","a":19.8,"s":27.6},{"g":"D","a":20.0,"s":26.4},{"g":"D","a":20.2,"s":28.3},{"g":"D","a":20.4,"s":29.4},{"g":"D","a":20.5,"s":27.0},{"g":"D","a":20.7,"s":28.6},{"g":"D","a":20.9,"s":26.4},{"g":"D","a":21.1,"s":27.9},{"g":"D","a":21.3,"s":29.0},{"g":"D","a":21.5,"s":26.5},{"g":"D","a":21.7,"s":27.4},{"g":"D","a":21.9,"s":28.2},{"g":"D","a":22.1,"s":26.6},{"g":"D","a":22.3,"s":28.5},{"g":"D","a":22.5,"s":27.1},{"g":"D","a":22.7,"s":28.1},{"g":"D","a":22.9,"s":26.9},{"g":"D","a":23.1,"s":28.9},{"g":"D","a":23.3,"s":27.4},{"g":"D","a":23.5,"s":26.3},{"g":"D","a":23.7,"s":27.8},{"g":"D","a":23.9,"s":26.8},{"g":"D","a":24.1,"s":29.0},{"g":"D","a":24.3,"s":26.6},{"g":"D","a":24.5,"s":28.0},{"g":"D","a":24.7,"s":27.1},{"g":"D","a":24.9,"s":28.6},{"g":"D","a":25.1,"s":26.1},{"g":"D","a":25.3,"s":27.5},{"g":"D","a":25.5,"s":28.7},{"g":"D","a":25.7,"s":26.5},{"g":"D","a":25.9,"s":27.9},{"g":"D","a":26.1,"s":28.9},{"g":"D","a":26.3,"s":26.6},{"g":"D","a":26.5,"s":27.6},{"g":"D","a":26.7,"s":28.2},{"g":"D","a":26.9,"s":27.4},{"g":"D","a":27.1,"s":26.7},{"g":"D","a":27.3,"s":27.6},{"g":"D","a":27.5,"s":28.7},{"g":"D","a":27.7,"s":26.4},{"g":"D","a":27.9,"s":27.7},{"g":"D","a":28.1,"s":28.6},{"g":"D","a":28.3,"s":26.2},{"g":"D","a":28.5,"s":27.4},{"g":"D","a":28.7,"s":28.2},{"g":"D","a":28.9,"s":26.9},{"g":"D","a":29.1,"s":28.0},{"g":"D","a":29.3,"s":27.4},{"g":"D","a":29.5,"s":26.6},{"g":"D","a":29.7,"s":28.4},{"g":"D","a":29.9,"s":27.1},{"g":"D","a":30.0,"s":28.5},{"g":"D","a":29.6,"s":29.3},{"g":"D","a":28.6,"s":29.2},{"g":"D","a":27.6,"s":29.2},{"g":"D","a":26.6,"s":29.3}
    ],
    "fit": [
      {"g":"A","a":5,"f":23.3,"lo":22.3,"hi":24.3},{"g":"A","a":6,"f":24.5,"lo":23.6,"hi":25.4},{"g":"A","a":7,"f":25.6,"lo":24.7,"hi":26.5},{"g":"A","a":8,"f":26.7,"lo":25.8,"hi":27.6},{"g":"A","a":9,"f":27.8,"lo":26.9,"hi":28.7},{"g":"A","a":10,"f":28.9,"lo":28.0,"hi":29.8},{"g":"A","a":11,"f":30.0,"lo":29.1,"hi":30.9},{"g":"A","a":12,"f":31.0,"lo":30.1,"hi":31.9},{"g":"A","a":13,"f":32.0,"lo":31.1,"hi":32.9},{"g":"A","a":14,"f":33.0,"lo":32.0,"hi":34.0},{"g":"A","a":15,"f":33.9,"lo":32.9,"hi":34.9},{"g":"A","a":16,"f":34.7,"lo":33.6,"hi":35.8},{"g":"A","a":17,"f":35.5,"lo":34.4,"hi":36.6},{"g":"A","a":18,"f":36.2,"lo":35.1,"hi":37.3},{"g":"A","a":19,"f":36.8,"lo":35.6,"hi":38.0},{"g":"A","a":20,"f":37.3,"lo":36.1,"hi":38.5},{"g":"A","a":21,"f":37.7,"lo":36.5,"hi":38.9},{"g":"A","a":22,"f":38.1,"lo":36.9,"hi":39.3},{"g":"A","a":23,"f":38.4,"lo":37.2,"hi":39.6},{"g":"A","a":24,"f":38.6,"lo":37.4,"hi":39.8},{"g":"A","a":25,"f":38.8,"lo":37.6,"hi":40.0},{"g":"A","a":26,"f":38.9,"lo":37.6,"hi":40.2},{"g":"A","a":27,"f":39.0,"lo":37.7,"hi":40.3},{"g":"A","a":28,"f":39.1,"lo":37.8,"hi":40.4},{"g":"A","a":29,"f":39.2,"lo":37.8,"hi":40.6},{"g":"A","a":30,"f":39.2,"lo":37.8,"hi":40.6},
      {"g":"B","a":5,"f":25.5,"lo":24.1,"hi":26.9},{"g":"B","a":6,"f":26.6,"lo":25.5,"hi":27.7},{"g":"B","a":7,"f":27.6,"lo":26.6,"hi":28.6},{"g":"B","a":8,"f":28.5,"lo":27.6,"hi":29.4},{"g":"B","a":9,"f":29.4,"lo":28.6,"hi":30.2},{"g":"B","a":10,"f":30.3,"lo":29.5,"hi":31.1},{"g":"B","a":11,"f":31.2,"lo":30.4,"hi":32.0},{"g":"B","a":12,"f":32.0,"lo":31.2,"hi":32.8},{"g":"B","a":13,"f":32.8,"lo":32.0,"hi":33.6},{"g":"B","a":14,"f":33.6,"lo":32.8,"hi":34.4},{"g":"B","a":15,"f":34.3,"lo":33.5,"hi":35.1},{"g":"B","a":16,"f":35.0,"lo":34.2,"hi":35.8},{"g":"B","a":17,"f":35.6,"lo":34.8,"hi":36.4},{"g":"B","a":18,"f":36.2,"lo":35.4,"hi":37.0},{"g":"B","a":19,"f":36.7,"lo":35.9,"hi":37.5},{"g":"B","a":20,"f":37.1,"lo":36.3,"hi":37.9},{"g":"B","a":21,"f":37.5,"lo":36.7,"hi":38.3},{"g":"B","a":22,"f":37.9,"lo":37.1,"hi":38.7},{"g":"B","a":23,"f":38.2,"lo":37.3,"hi":39.1},{"g":"B","a":24,"f":38.5,"lo":37.6,"hi":39.4},{"g":"B","a":25,"f":38.7,"lo":37.8,"hi":39.6},{"g":"B","a":26,"f":38.9,"lo":37.9,"hi":39.9},{"g":"B","a":27,"f":39.0,"lo":38.0,"hi":40.0},{"g":"B","a":28,"f":39.1,"lo":38.1,"hi":40.1},{"g":"B","a":29,"f":39.2,"lo":38.1,"hi":40.3},{"g":"B","a":30,"f":39.3,"lo":38.1,"hi":40.5},
      {"g":"C","a":5,"f":24.3,"lo":23.0,"hi":25.6},{"g":"C","a":6,"f":25.3,"lo":24.3,"hi":26.3},{"g":"C","a":7,"f":26.4,"lo":25.6,"hi":27.2},{"g":"C","a":8,"f":27.5,"lo":26.8,"hi":28.2},{"g":"C","a":9,"f":28.7,"lo":28.1,"hi":29.3},{"g":"C","a":10,"f":29.9,"lo":29.3,"hi":30.5},{"g":"C","a":11,"f":31.1,"lo":30.5,"hi":31.7},{"g":"C","a":12,"f":32.2,"lo":31.6,"hi":32.8},{"g":"C","a":13,"f":33.3,"lo":32.7,"hi":33.9},{"g":"C","a":14,"f":34.3,"lo":33.7,"hi":34.9},{"g":"C","a":15,"f":35.2,"lo":34.6,"hi":35.8},{"g":"C","a":16,"f":36.0,"lo":35.4,"hi":36.6},{"g":"C","a":17,"f":36.8,"lo":36.2,"hi":37.4},{"g":"C","a":18,"f":37.5,"lo":36.9,"hi":38.1},{"g":"C","a":19,"f":38.1,"lo":37.5,"hi":38.7},{"g":"C","a":20,"f":38.6,"lo":38.0,"hi":39.2},{"g":"C","a":21,"f":39.0,"lo":38.4,"hi":39.6},{"g":"C","a":22,"f":39.3,"lo":38.7,"hi":39.9},{"g":"C","a":23,"f":39.6,"lo":39.0,"hi":40.2},{"g":"C","a":24,"f":39.8,"lo":39.2,"hi":40.4},{"g":"C","a":25,"f":39.9,"lo":39.2,"hi":40.6},{"g":"C","a":26,"f":40.0,"lo":39.3,"hi":40.7},{"g":"C","a":27,"f":40.0,"lo":39.3,"hi":40.7},{"g":"C","a":28,"f":40.0,"lo":39.3,"hi":40.7},{"g":"C","a":29,"f":40.0,"lo":39.2,"hi":40.8},{"g":"C","a":30,"f":40.0,"lo":39.1,"hi":40.9},
      {"g":"D","a":5,"f":18.8,"lo":18.4,"hi":19.2},{"g":"D","a":6,"f":19.9,"lo":19.6,"hi":20.2},{"g":"D","a":7,"f":20.9,"lo":20.6,"hi":21.2},{"g":"D","a":8,"f":21.8,"lo":21.5,"hi":22.1},{"g":"D","a":9,"f":22.6,"lo":22.3,"hi":22.9},{"g":"D","a":10,"f":23.4,"lo":23.1,"hi":23.7},{"g":"D","a":11,"f":24.1,"lo":23.8,"hi":24.4},{"g":"D","a":12,"f":24.7,"lo":24.4,"hi":25.0},{"g":"D","a":13,"f":25.3,"lo":25.0,"hi":25.6},{"g":"D","a":14,"f":25.8,"lo":25.5,"hi":26.1},{"g":"D","a":15,"f":26.2,"lo":25.9,"hi":26.5},{"g":"D","a":16,"f":26.6,"lo":26.3,"hi":26.9},{"g":"D","a":17,"f":26.9,"lo":26.6,"hi":27.2},{"g":"D","a":18,"f":27.2,"lo":26.9,"hi":27.5},{"g":"D","a":19,"f":27.5,"lo":27.2,"hi":27.8},{"g":"D","a":20,"f":27.7,"lo":27.4,"hi":28.0},{"g":"D","a":21,"f":27.9,"lo":27.6,"hi":28.2},{"g":"D","a":22,"f":28.1,"lo":27.8,"hi":28.4},{"g":"D","a":23,"f":28.3,"lo":28.0,"hi":28.6},{"g":"D","a":24,"f":28.5,"lo":28.2,"hi":28.8},{"g":"D","a":25,"f":28.6,"lo":28.3,"hi":28.9},{"g":"D","a":26,"f":28.8,"lo":28.5,"hi":29.1},{"g":"D","a":27,"f":28.9,"lo":28.6,"hi":29.2},{"g":"D","a":28,"f":29.0,"lo":28.7,"hi":29.3},{"g":"D","a":29,"f":29.2,"lo":28.8,"hi":29.6},{"g":"D","a":30,"f":29.3,"lo":28.9,"hi":29.7}
    ]
  },
  "concat": [
    {"width":539,"height":506,"title":"(A) No Rx","layer":[
      {"data":{"name":"pts"},"transform":[{"filter":"datum.g=='A'"}],"mark":{"type":"point","shape":"circle","filled":false,"size":255,"strokeWidth":1.9,"color":"black","opacity":1},
       "encoding":{"x":{"field":"a","type":"quantitative","title":"Age (years)","scale":{"domain":[3.6,31.1],"nice":false,"zero":false},"axis":{"values":[10,20,30]}},"y":{"field":"s","type":"quantitative","title":"Aortic Sinus (mm)","scale":{"domain":[13.1,57.0],"nice":false,"zero":false},"axis":{"values":[20,30,40,50]}}}},
      {"data":{"name":"fit"},"transform":[{"filter":"datum.g=='A'"}],"mark":{"type":"rule","strokeWidth":2.5,"color":"black"},
       "encoding":{"x":{"field":"a","type":"quantitative","title":"Age (years)"},"y":{"field":"lo","type":"quantitative","title":"Aortic Sinus (mm)"},"y2":{"field":"hi"}}},
      {"data":{"name":"fit"},"transform":[{"filter":"datum.g=='A'"}],"mark":{"type":"line","strokeWidth":7,"color":"black","interpolate":"monotone"},
       "encoding":{"x":{"field":"a","type":"quantitative","title":"Age (years)"},"y":{"field":"f","type":"quantitative","title":"Aortic Sinus (mm)"}}}
    ]},
    {"width":539,"height":506,"title":"(B) Beta Blocker","layer":[
      {"data":{"name":"pts"},"transform":[{"filter":"datum.g=='B'"}],"mark":{"type":"point","shape":"circle","filled":false,"size":255,"strokeWidth":1.9,"color":"black","opacity":1},
       "encoding":{"x":{"field":"a","type":"quantitative","title":"Age (years)","scale":{"domain":[3.6,31.1],"nice":false,"zero":false},"axis":{"values":[10,20,30]}},"y":{"field":"s","type":"quantitative","title":"Aortic Sinus (mm)","scale":{"domain":[13.1,57.0],"nice":false,"zero":false},"axis":{"values":[20,30,40,50]}}}},
      {"data":{"name":"fit"},"transform":[{"filter":"datum.g=='B'"}],"mark":{"type":"rule","strokeWidth":2.5,"color":"black"},
       "encoding":{"x":{"field":"a","type":"quantitative","title":"Age (years)"},"y":{"field":"lo","type":"quantitative","title":"Aortic Sinus (mm)"},"y2":{"field":"hi"}}},
      {"data":{"name":"fit"},"transform":[{"filter":"datum.g=='B'"}],"mark":{"type":"line","strokeWidth":7,"color":"black","interpolate":"monotone"},
       "encoding":{"x":{"field":"a","type":"quantitative","title":"Age (years)"},"y":{"field":"f","type":"quantitative","title":"Aortic Sinus (mm)"}}}
    ]},
    {"width":539,"height":506,"title":"(C) ACE\u2212inhibitor","layer":[
      {"data":{"name":"pts"},"transform":[{"filter":"datum.g=='C'"}],"mark":{"type":"point","shape":"circle","filled":false,"size":255,"strokeWidth":1.9,"color":"black","opacity":1},
       "encoding":{"x":{"field":"a","type":"quantitative","title":"Age (years)","scale":{"domain":[3.6,31.1],"nice":false,"zero":false},"axis":{"values":[10,20,30]}},"y":{"field":"s","type":"quantitative","title":"Aortic Sinus (mm)","scale":{"domain":[13.1,57.0],"nice":false,"zero":false},"axis":{"values":[20,30,40,50]}}}},
      {"data":{"name":"fit"},"transform":[{"filter":"datum.g=='C'"}],"mark":{"type":"rule","strokeWidth":2.5,"color":"black"},
       "encoding":{"x":{"field":"a","type":"quantitative","title":"Age (years)"},"y":{"field":"lo","type":"quantitative","title":"Aortic Sinus (mm)"},"y2":{"field":"hi"}}},
      {"data":{"name":"fit"},"transform":[{"filter":"datum.g=='C'"}],"mark":{"type":"line","strokeWidth":7,"color":"black","interpolate":"monotone"},
       "encoding":{"x":{"field":"a","type":"quantitative","title":"Age (years)"},"y":{"field":"f","type":"quantitative","title":"Aortic Sinus (mm)"}}}
    ]},
    {"width":539,"height":506,"title":"(D) Normal controls","layer":[
      {"data":{"name":"pts"},"transform":[{"filter":"datum.g=='D'"}],"mark":{"type":"point","shape":"circle","filled":false,"size":255,"strokeWidth":1.9,"color":"black","opacity":1},
       "encoding":{"x":{"field":"a","type":"quantitative","title":"Age (years)","scale":{"domain":[3.6,31.1],"nice":false,"zero":false},"axis":{"values":[10,20,30]}},"y":{"field":"s","type":"quantitative","title":"Aortic Sinus (mm)","scale":{"domain":[13.1,57.0],"nice":false,"zero":false},"axis":{"values":[20,30,40,50]}}}},
      {"data":{"name":"fit"},"transform":[{"filter":"datum.g=='D'"}],"mark":{"type":"rule","strokeWidth":2.5,"color":"black"},
       "encoding":{"x":{"field":"a","type":"quantitative","title":"Age (years)"},"y":{"field":"lo","type":"quantitative","title":"Aortic Sinus (mm)"},"y2":{"field":"hi"}}},
      {"data":{"name":"fit"},"transform":[{"filter":"datum.g=='D'"}],"mark":{"type":"line","strokeWidth":7,"color":"black","interpolate":"monotone"},
       "encoding":{"x":{"field":"a","type":"quantitative","title":"Age (years)"},"y":{"field":"f","type":"quantitative","title":"Aortic Sinus (mm)"}}}
    ]}
  ],
  "columns": 2,
  "spacing": {"row": 194, "column": 160},
  "bounds": "flush",
  "config": {
    "background": "white",
    "view": {"stroke": "black", "strokeWidth": 2.5},
    "axis": {"grid": false, "domain": false, "ticks": true, "tickColor": "#8a8a8a", "tickWidth": 2, "tickSize": 9, "labelColor": "#8a8a8a", "labelFont": "Liberation Sans", "labelFontSize": 25, "labelPadding": 5, "titleFont": "Liberation Sans", "titleFontSize": 33, "titleFontWeight": "normal", "titleColor": "black"},
    "axisX": {"titlePadding": 4},
    "axisY": {"titlePadding": 8, "labelPadding": 6},
    "title": {"font": "Liberation Sans", "fontSize": 37, "fontWeight": "normal", "color": "black", "offset": 6, "anchor": "middle"}
  }
}
